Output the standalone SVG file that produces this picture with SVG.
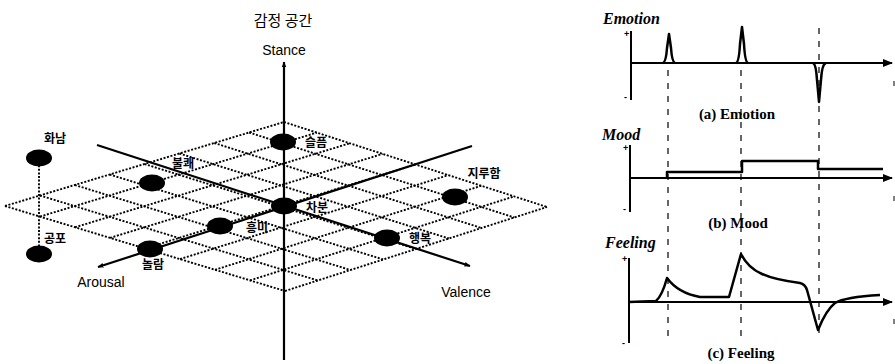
<svg xmlns="http://www.w3.org/2000/svg" width="895" height="364" viewBox="0 0 895 364">
<defs>
<marker id="ah" viewBox="0 0 10 10" refX="9" refY="5" markerWidth="6" markerHeight="6" orient="auto" markerUnits="userSpaceOnUse"><path d="M0,1 L10,5 L0,9 z" fill="#000"/></marker>
<marker id="ahb" viewBox="0 0 10 10" refX="9" refY="5" markerWidth="14" markerHeight="10" orient="auto" markerUnits="userSpaceOnUse"><path d="M0,1 L10,5 L0,9 z" fill="#000"/></marker>
</defs>
<style>
.grid line{stroke:#000;stroke-width:1.9;stroke-dasharray:2,1.6}
.ax{stroke:#000;stroke-width:2.2;fill:none}
.nd{fill:#000}
.kl{font-family:"Noto Sans CJK KR","Noto Sans",sans-serif;font-size:12px;font-weight:bold;fill:#000}
.en{font-family:"Liberation Sans",Arial,sans-serif;font-size:14px;fill:#000}
.gt{font-family:"Liberation Serif","Times New Roman",serif;font-style:italic;font-weight:bold;font-size:16px;fill:#000}
.cap{font-family:"Liberation Serif","Times New Roman",serif;font-weight:bold;font-size:15px;fill:#000}
.pm{font-family:"Liberation Sans",Arial,sans-serif;font-size:9px;font-weight:bold;fill:#000}
.dash{stroke:#000;stroke-width:1.2;stroke-dasharray:6,7;fill:none}
.sig{stroke:#000;stroke-width:2.5;fill:none;stroke-linejoin:round}
</style>
<rect width="895" height="364" fill="#fff"/>
<text x="283" y="26" text-anchor="middle" style="font-family:'Noto Sans CJK KR','Noto Sans',sans-serif;font-size:15px">감정 공간</text>
<g class="grid" id="grid">
<line x1="5" y1="206" x2="284" y2="122"/>
<line x1="40" y1="216.6" x2="316.9" y2="132.6"/>
<line x1="75" y1="227.3" x2="349.8" y2="143.3"/>
<line x1="110" y1="237.9" x2="382.6" y2="153.9"/>
<line x1="145" y1="248.5" x2="415.5" y2="164.5"/>
<line x1="180" y1="259.1" x2="448.4" y2="175.1"/>
<line x1="215" y1="269.8" x2="481.3" y2="185.8"/>
<line x1="250" y1="280.4" x2="514.1" y2="196.4"/>
<line x1="285" y1="291" x2="547" y2="207"/>
<line x1="5" y1="206" x2="285" y2="291"/>
<line x1="39.9" y1="195.5" x2="317.8" y2="280.5"/>
<line x1="74.8" y1="185" x2="350.5" y2="270"/>
<line x1="109.6" y1="174.5" x2="383.3" y2="259.5"/>
<line x1="144.5" y1="164" x2="416" y2="249"/>
<line x1="179.4" y1="153.5" x2="448.8" y2="238.5"/>
<line x1="214.3" y1="143" x2="481.5" y2="228"/>
<line x1="249.1" y1="132.5" x2="514.3" y2="217.5"/>
<line x1="284" y1="122" x2="547" y2="207"/>
<line x1="39" y1="158" x2="39" y2="254"/>
</g>
<g id="connectors">
<line class="ax" x1="284" y1="360" x2="284" y2="62" marker-end="url(#ah)"/>
<line class="ax" x1="97" y1="145" x2="470" y2="266" marker-end="url(#ah)"/>
<line class="ax" x1="472" y1="146" x2="98" y2="267" marker-end="url(#ah)"/>
</g>
<text class="en" x="284" y="55" text-anchor="middle">Stance</text>
<text class="en" x="101" y="287" text-anchor="middle">Arousal</text>
<text class="en" x="466" y="297" text-anchor="middle">Valence</text>
<g id="n-hwanam"><ellipse class="nd" cx="39" cy="158" rx="13" ry="8.5"/><text class="kl" x="55" y="143" text-anchor="middle">화남</text></g>
<g id="n-gongpo"><ellipse class="nd" cx="39" cy="254" rx="13" ry="8.5"/><text class="kl" x="55" y="243" text-anchor="middle">공포</text></g>
<g id="n-bulkwae"><ellipse class="nd" cx="152" cy="183" rx="13" ry="8.5"/><text class="kl" x="183" y="168" text-anchor="middle">불쾌</text></g>
<g id="n-seulpeum"><ellipse class="nd" cx="283" cy="142" rx="13" ry="8.5"/><text class="kl" x="316" y="147" text-anchor="middle">슬픔</text></g>
<g id="n-chabun"><ellipse class="nd" cx="284" cy="206" rx="13" ry="8.5"/><text class="kl" x="317" y="212" text-anchor="middle">차분</text></g>
<g id="n-heungmi"><ellipse class="nd" cx="220" cy="226" rx="13" ry="8.5"/><text class="kl" x="257" y="232" text-anchor="middle">흥미</text></g>
<g id="n-nollam"><ellipse class="nd" cx="150" cy="249" rx="13" ry="8.5"/><text class="kl" x="153" y="269" text-anchor="middle">놀람</text></g>
<g id="n-haengbok"><ellipse class="nd" cx="387" cy="238" rx="13" ry="8.5"/><text class="kl" x="420" y="243" text-anchor="middle">행복</text></g>
<g id="n-jiruham"><ellipse class="nd" cx="455" cy="197" rx="13" ry="8.5"/><text class="kl" x="484" y="178" text-anchor="middle">지루함</text></g>
<g id="panel-right">
<line class="dash" x1="668" y1="70" x2="668" y2="340"/>
<line class="dash" x1="741" y1="70" x2="741" y2="340"/>
<line class="dash" x1="819" y1="28" x2="819" y2="335"/>
<text class="gt" x="603" y="24">Emotion</text>
<line x1="631" y1="31" x2="631" y2="100" stroke="#000" stroke-width="2"/>
<text class="pm" x="624" y="37">+</text><text class="pm" x="624" y="100">-</text>
<line x1="631" y1="63" x2="892" y2="63" stroke="#000" stroke-width="2" marker-end="url(#ahb)"/>
<path class="sig" d="M663,63 Q666,62 667,48 L669,34 L671,48 Q672,62 675,63" stroke-width="3"/>
<path class="sig" d="M736,63 Q739,62 740,44 L742,27 L744,44 Q745,62 748,63" stroke-width="3"/>
<path class="sig" d="M813,63 Q816,64 817,80 L819,102 L821,80 Q822,64 826,63" stroke-width="3"/>
<line x1="894" y1="81" x2="894" y2="86" stroke="#000" stroke-width="1"/>
<text class="cap" x="737" y="119" text-anchor="middle">(a) Emotion</text>
<text class="gt" x="602" y="140">Mood</text>
<line x1="630" y1="145" x2="630" y2="212" stroke="#000" stroke-width="2"/>
<text class="pm" x="623" y="151">+</text><text class="pm" x="623" y="212">-</text>
<line x1="630" y1="178" x2="892" y2="178" stroke="#000" stroke-width="2" marker-end="url(#ahb)"/>
<path class="sig" d="M667,178 L667,172 L742,172 L742,161 L818,161 L818,169 L883,169" stroke-width="2.2"/>
<line x1="894" y1="196" x2="894" y2="201" stroke="#000" stroke-width="1"/>
<text class="cap" x="738" y="228" text-anchor="middle">(b) Mood</text>
<text class="gt" x="605" y="248">Feeling</text>
<line x1="629" y1="258" x2="629" y2="343" stroke="#000" stroke-width="2"/>
<text class="pm" x="622" y="262">+</text><text class="pm" x="622" y="346">-</text>
<line x1="629" y1="302" x2="892" y2="302" stroke="#000" stroke-width="2" marker-end="url(#ahb)"/>
<path class="sig" d="M629,302 L656,301 Q662,296 667,278 Q678,293 700,297 L729,297 L741,254 Q748,268 762,274 Q775,280 800,283 Q805,284 807,290 L818,330 Q826,310 835,303 Q845,297 880,295"/>
<line x1="894" y1="319" x2="894" y2="324" stroke="#000" stroke-width="1"/>
<text class="cap" x="741" y="358" text-anchor="middle">(c) Feeling</text>
</g>
</svg>
